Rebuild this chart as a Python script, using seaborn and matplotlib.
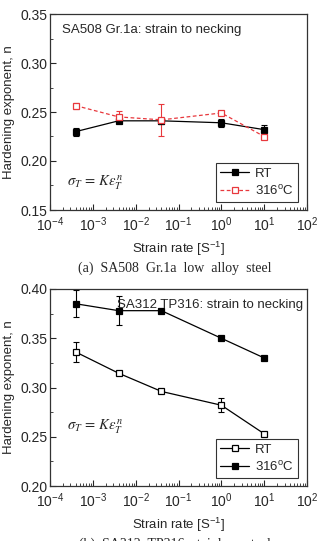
import numpy as np
import pandas as pd
import matplotlib
matplotlib.use("Agg")
import matplotlib.pyplot as plt
import seaborn as sns
from matplotlib.ticker import LogLocator, MultipleLocator, NullFormatter

# ---------------- data ----------------
strain_rate = [4e-4, 4e-3, 4e-2, 1.0, 10.0]

# (a) SA508 Gr.1a
a_rt = [0.230, 0.241, 0.241, 0.239, 0.232]
a_rt_err = [0.004, 0.002, 0.003, 0.004, 0.005]
a_316 = [0.2565, 0.245, 0.242, 0.249, 0.225]
a_316_err = [0.003, 0.006, 0.016, 0.002, 0.003]

# (b) SA312 TP316
b_rt = [0.336, 0.3145, 0.296, 0.282, 0.253]
b_rt_err = [0.0105, 0.002, 0.002, 0.007, 0.002]
b_316 = [0.385, 0.378, 0.378, 0.350, 0.330]
b_316_err = [0.0135, 0.015, 0.001, 0.001, 0.001]

xticks = [1e-4, 1e-3, 1e-2, 1e-1, 1e0, 1e1, 1e2]
xtick_labels = [r"10$^{-4}$", r"10$^{-3}$", r"10$^{-2}$", r"10$^{-1}$",
                r"10$^{0}$", r"10$^{1}$", r"10$^{2}$"]
series_labels = ["RT", "316$^{\\rm o}$C"]

sns.set_theme(style="ticks")
plt.rcParams['font.family'] = ['Liberation Sans', 'DejaVu Sans']
plt.rcParams['mathtext.fontset'] = 'custom'
plt.rcParams['mathtext.rm'] = 'Liberation Sans'
plt.rcParams['mathtext.it'] = 'Liberation Sans:italic'

W, H = 318, 541
fig = plt.figure(figsize=(W / 100, H / 100), dpi=100)


def add_ax(left, top, right, bottom):
    return fig.add_axes([left / W, 1 - bottom / H, (right - left) / W, (bottom - top) / H])


def style_ax(ax, ylim, yticks):
    ax.set_xscale("log")
    ax.set_xlim(1e-4, 1e2)
    ax.set_ylim(*ylim)
    ax.set_xticks(xticks)
    ax.set_xticklabels(xtick_labels)
    ax.xaxis.set_minor_locator(LogLocator(base=10, subs=np.arange(2, 10), numticks=20))
    ax.xaxis.set_minor_formatter(NullFormatter())
    ax.set_yticks(yticks)
    ax.set_yticklabels([f"{v:.2f}" for v in yticks])
    ax.yaxis.set_minor_locator(MultipleLocator(0.025))
    ax.tick_params(axis="both", which="major", direction="in", length=4, width=0.8,
                   labelsize=10)
    ax.tick_params(axis="x", which="major", pad=4)
    ax.tick_params(axis="y", which="major", pad=2)
    ax.tick_params(axis="both", which="minor", direction="in", length=2, width=0.6)
    for s in ax.spines.values():
        s.set_linewidth(0.9)
        s.set_color("#333333")
    ax.set_xlabel("Strain rate [S$^{-1}$]", fontsize=9.5, labelpad=4)
    ax.set_ylabel("Hardening exponent, n", fontsize=9.5)
    ax.yaxis.set_label_coords(-0.135, 0.5)


def draw(ax, y, err, color, mfc, ls, label, ms=5):
    df = pd.DataFrame({"rate": strain_rate, "n": y})
    ax.errorbar(strain_rate, y, yerr=err, fmt="none", ecolor=color, elinewidth=0.8,
                capsize=2.5, capthick=0.8, zorder=2)
    sns.lineplot(data=df, x="rate", y="n", ax=ax, color=color, linestyle=ls,
                 linewidth=0.9, marker="s", markersize=ms, markerfacecolor=mfc,
                 markeredgecolor=color, markeredgewidth=0.9, label=label, zorder=3)


def legend(ax):
    leg = ax.legend(loc="lower right", bbox_to_anchor=(0.965, 0.04), frameon=True,
                    fontsize=9.5, handlelength=2.2, handletextpad=0.4, borderpad=0.35,
                    labelspacing=0.3, fancybox=False, edgecolor="black",
                    borderaxespad=0.0)
    leg.get_frame().set_linewidth(0.8)


# ---------------- (a) ----------------
ax1 = add_ax(50, 14, 307, 210)
red = "#e8383d"
draw(ax1, a_rt, a_rt_err, "black", "black", "-", series_labels[0])
draw(ax1, a_316, a_316_err, red, "white", (0, (3, 2)), series_labels[1])
style_ax(ax1, (0.15, 0.35), [0.15, 0.20, 0.25, 0.30, 0.35])
ax1.text(0.045, 0.92, "SA508 Gr.1a: strain to necking", transform=ax1.transAxes,
         fontsize=9.5, va="center", ha="left")
ax1.text(0.065, 0.14, r"$\sigma_T\,=\,K\varepsilon_T^{\,n}$", transform=ax1.transAxes,
         fontsize=10.5, va="center", ha="left", math_fontfamily="stix")
legend(ax1)

fig.text(175 / W, 1 - 268 / H, "(a)  SA508  Gr.1a  low  alloy  steel", ha="center",
         va="center", fontsize=10, family="Liberation Serif")

# ---------------- (b) ----------------
ax2 = add_ax(50, 289, 307, 486)
draw(ax2, b_rt, b_rt_err, "black", "white", "-", series_labels[0])
draw(ax2, b_316, b_316_err, "black", "black", "-", series_labels[1])
style_ax(ax2, (0.20, 0.40), [0.20, 0.25, 0.30, 0.35, 0.40])
ax2.text(0.985, 0.92, "SA312 TP316: strain to necking", transform=ax2.transAxes,
         fontsize=9.5, va="center", ha="right")
ax2.text(0.065, 0.30, r"$\sigma_T\,=\,K\varepsilon_T^{\,n}$", transform=ax2.transAxes,
         fontsize=10.5, va="center", ha="left", math_fontfamily="stix")
legend(ax2)

fig.text(175 / W, 1 - 544 / H, "(b)  SA312  TP316  stainless  steel", ha="center",
         va="center", fontsize=10, family="Liberation Serif")

fig.savefig("out.png", dpi=100)
